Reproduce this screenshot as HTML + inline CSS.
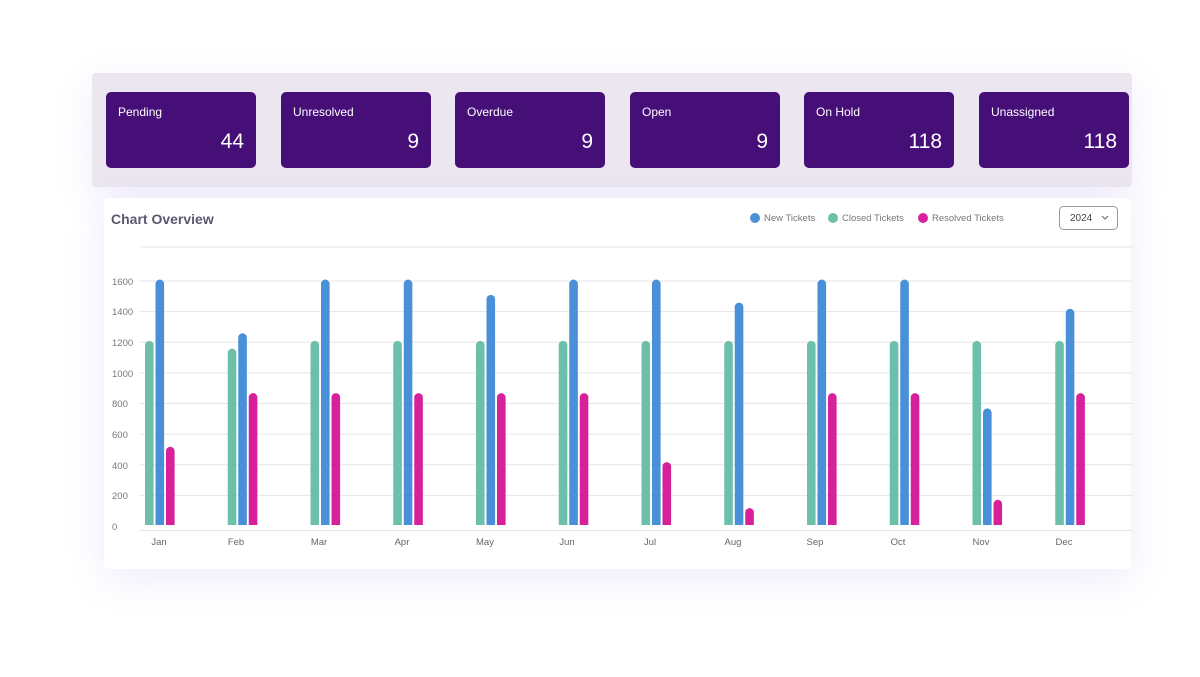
<!DOCTYPE html>
<html><head><meta charset="utf-8"><style>
body{margin:0;width:1200px;height:677px;background:#fff;font-family:"Liberation Sans",sans-serif;position:relative;overflow:hidden}
.wrap{position:absolute;left:92px;top:73px;width:1040px;height:114px;background:#ebe6f0;border-radius:4px;box-shadow:0 10px 40px rgba(120,100,220,0.12)}
.card{position:absolute;top:92px;width:150px;height:76px;background:#460f78;border-radius:5px;color:#fff}
.card .t{position:absolute;left:12px;top:13px;font-size:12px}
.card .v{position:absolute;right:12px;top:38px;font-size:21px}
.chart{position:absolute;left:104px;top:198px;width:1027px;height:371px;background:#fff;border-radius:5px;box-shadow:0 10px 40px rgba(120,100,220,0.13)}
</style></head><body>
<div class="wrap"></div>
<div class="card" style="left:106px"><div class="t">Pending</div><div class="v">44</div></div>
<div class="card" style="left:281px"><div class="t">Unresolved</div><div class="v">9</div></div>
<div class="card" style="left:455px"><div class="t">Overdue</div><div class="v">9</div></div>
<div class="card" style="left:630px"><div class="t">Open</div><div class="v">9</div></div>
<div class="card" style="left:804px"><div class="t">On Hold</div><div class="v">118</div></div>
<div class="card" style="left:979px"><div class="t">Unassigned</div><div class="v">118</div></div>
<div class="chart"></div>
<svg width="1200" height="677" style="position:absolute;left:0;top:0" font-family="Liberation Sans, sans-serif">
<text x="111" y="224" font-size="14" font-weight="bold" fill="#5a5870">Chart Overview</text>
<circle cx="755" cy="218" r="5" fill="#4a90d9"/><text x="764" y="221" font-size="9.5" fill="#777">New Tickets</text>
<circle cx="833" cy="218" r="5" fill="#6cc0aa"/><text x="842" y="221" font-size="9.5" fill="#777">Closed Tickets</text>
<circle cx="923" cy="218" r="5" fill="#d6219a"/><text x="932" y="221" font-size="9.5" fill="#777">Resolved Tickets</text>
<rect x="1059.5" y="206.5" width="58" height="23" rx="4" fill="#fff" stroke="#999"/>
<text x="1070" y="221" font-size="10" fill="#444">2024</text>
<path d="M1102 216 l3 3 l3 -3" stroke="#666" fill="none"/>
<g stroke="#e6e6ea" stroke-width="1">
<line x1="140" y1="247" x2="1133" y2="247"/>
<line x1="139" y1="281" x2="1133" y2="281"/><line x1="139" y1="311.6" x2="1133" y2="311.6"/><line x1="139" y1="342.3" x2="1133" y2="342.3"/><line x1="139" y1="372.9" x2="1133" y2="372.9"/><line x1="139" y1="403.5" x2="1133" y2="403.5"/><line x1="139" y1="434.1" x2="1133" y2="434.1"/><line x1="139" y1="464.8" x2="1133" y2="464.8"/><line x1="139" y1="495.4" x2="1133" y2="495.4"/><line x1="139" y1="530.5" x2="1133" y2="530.5"/>
</g>
<g font-size="9.5" fill="#777">
<text x="112" y="285">1600</text><text x="112" y="315">1400</text><text x="112" y="346">1200</text><text x="112" y="377">1000</text><text x="112" y="407">800</text><text x="112" y="438">600</text><text x="112" y="469">400</text><text x="112" y="499">200</text><text x="112" y="530">0</text>
</g>
<g id="bars"></g>
<g id="lbl" font-size="9.5" fill="#666" text-anchor="middle"></g>
</svg>
<script>
var G=[1200,1150,1200,1200,1200,1200,1200,1200,1200,1200,1200,1200],
B=[1600,1250,1600,1600,1500,1600,1600,1450,1600,1600,760,1410],
P=[510,860,860,860,860,860,410,110,860,860,165,860],
M=["Jan","Feb","Mar","Apr","May","Jun","Jul","Aug","Sep","Oct","Nov","Dec"],
LX=[159,236,319,402,485,567,650,733,815,898,981,1064],
s="",l="";
function bar(x,v,c){var h=v*0.1534,y=525-h;return '<path d="M'+x+' 525 V'+(y+4.3)+' a4.3 4.3 0 0 1 8.6 0 V525 Z" fill="'+c+'"/>';}
for(var i=0;i<12;i++){var x=145+82.75*i;s+=bar(x,G[i],"#6cc0aa")+bar(x+10.5,B[i],"#4a90d9")+bar(x+21,P[i],"#d6219a");
l+='<text x="'+LX[i]+'" y="545">'+M[i]+'</text>';}
document.getElementById("bars").innerHTML=s;document.getElementById("lbl").innerHTML=l;
</script>
</body></html>
